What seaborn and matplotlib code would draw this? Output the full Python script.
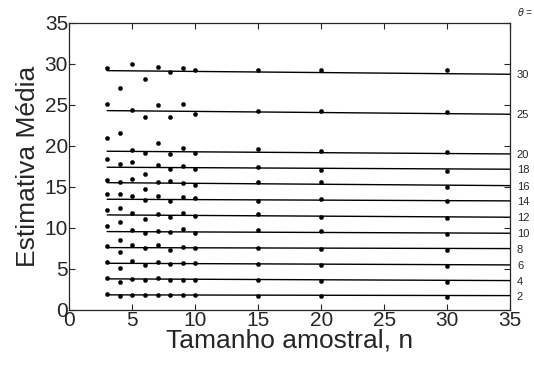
import pandas as pd
import matplotlib
matplotlib.use("Agg")
import matplotlib.pyplot as plt
import seaborn as sns

# sample sizes (x) and theta values (one series each)
n_vals = [3, 4, 5, 6, 7, 8, 9, 10, 15, 20, 30]
thetas = [2, 4, 6, 8, 10, 12, 14, 16, 18, 20, 25, 30]

est_2 = [1.95, 1.71, 1.87, 1.83, 1.83, 1.79, 1.83, 1.79, 1.66, 1.66, 1.62]
est_4 = [3.90, 3.37, 3.78, 3.61, 3.86, 3.61, 3.65, 3.61, 3.61, 3.57, 3.41]
est_6 = [5.85, 5.08, 5.93, 5.52, 5.89, 5.64, 5.72, 5.68, 5.64, 5.48, 5.36]
est_8 = [7.83, 7.03, 7.92, 7.51, 7.92, 7.35, 7.64, 7.59, 7.55, 7.47, 7.31]
est_10 = [10.19, 8.53, 9.74, 9.34, 9.58, 9.50, 9.90, 9.42, 9.70, 9.62, 9.26]
est_12 = [12.22, 10.72, 11.78, 11.12, 11.73, 11.29, 11.81, 11.45, 11.69, 11.33, 11.25]
est_14 = [14.13, 12.39, 13.92, 13.40, 13.92, 13.24, 13.76, 13.60, 13.28, 13.52, 13.28]
est_16 = [15.80, 14.17, 15.99, 14.74, 15.63, 15.67, 15.47, 15.19, 15.55, 15.55, 15.02]
est_18 = [18.35, 15.63, 18.03, 16.60, 17.70, 17.21, 17.58, 17.17, 17.38, 17.02, 16.93]
est_20 = [20.99, 17.78, 19.53, 19.08, 20.30, 18.96, 19.73, 19.08, 19.57, 19.37, 19.20]
est_25 = [25.05, 21.60, 24.40, 23.50, 24.97, 23.55, 25.09, 23.83, 24.24, 24.24, 24.08]
est_30 = [29.48, 27.04, 29.96, 28.14, 29.64, 28.95, 29.44, 29.20, 29.27, 29.20, 29.20]

# fitted lines: value at n=3 and at n=35
line_x = [3, 35]
line_start = [1.83, 3.78, 5.68, 7.59, 9.54, 11.57, 13.48, 15.50, 17.38, 19.33, 24.28, 29.15]
line_end = [1.74, 3.57, 5.48, 7.47, 9.34, 11.29, 13.28, 15.14, 17.14, 19.00, 23.84, 28.71]

estimates = [est_2, est_4, est_6, est_8, est_10, est_12, est_14, est_16,
             est_18, est_20, est_25, est_30]

rows = []
for th, est in zip(thetas, estimates):
    for n, v in zip(n_vals, est):
        rows.append({"theta": th, "n": n, "est": v})
pts = pd.DataFrame(rows)

lrows = []
for th, a, b in zip(thetas, line_start, line_end):
    lrows.append({"theta": th, "n": line_x[0], "val": a})
    lrows.append({"theta": th, "n": line_x[1], "val": b})
lines = pd.DataFrame(lrows)

sns.set_style("ticks")
plt.rcParams["font.family"] = ["Liberation Sans", "DejaVu Sans"]
plt.rcParams["xtick.direction"] = "in"
plt.rcParams["ytick.direction"] = "in"

fig = plt.figure(figsize=(5.34, 3.65), dpi=100)
ax = fig.add_axes([0.130, 0.151, 0.825, 0.787])

sns.lineplot(data=lines, x="n", y="val", units="theta", estimator=None,
             color="black", linewidth=1.0, ax=ax, legend=False)
sns.scatterplot(data=pts, x="n", y="est", color="black", s=9,
                edgecolor="black", linewidth=0.3, ax=ax, legend=False)

# theta labels at the right end of each line
for th, b in zip(thetas, line_end):
    ax.text(35.55, b - 0.15, str(th), fontsize=8, ha="left", va="center",
            clip_on=False)
fig.text(0.968, 0.968, r"$\theta$ =", fontsize=7, ha="left", va="center",
         style="italic")

ax.set_xlim(0, 35)
ax.set_ylim(0, 35)
ax.set_xticks(range(0, 36, 5))
ax.set_yticks(range(0, 36, 5))
ax.tick_params(top=True, right=True, length=4, width=0.8, labelsize=15, pad=1)
for s in ax.spines.values():
    s.set_linewidth(0.9)
    s.set_visible(True)
ax.set_xlabel("Tamanho amostral, n", fontsize=19, labelpad=-1)
ax.set_ylabel("Estimativa Média", fontsize=19, labelpad=3)

plt.savefig("out.png", dpi=100)
plt.close()
